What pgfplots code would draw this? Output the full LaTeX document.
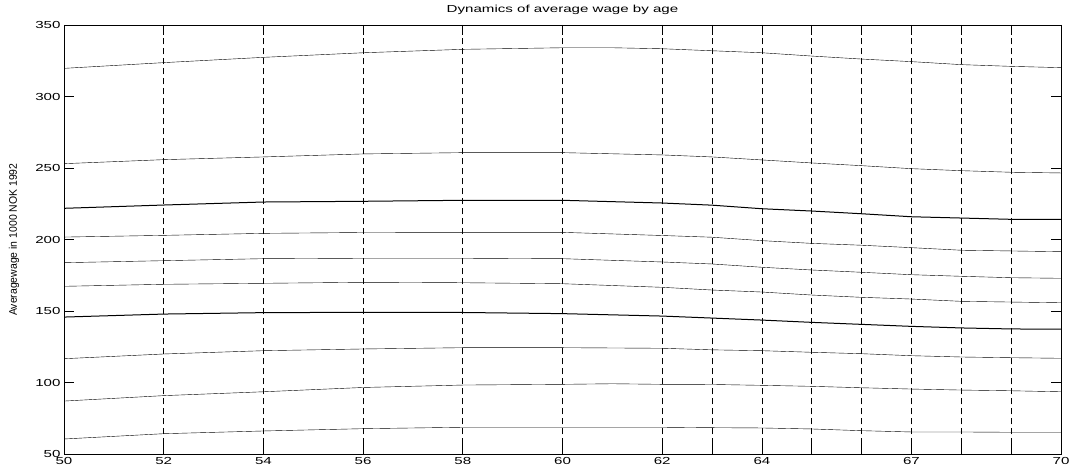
\documentclass[border=0pt]{standalone}
\usepackage{pgfplots}
\pgfplotsset{compat=1.18}
\usepackage{fontspec}
\setmainfont{Liberation Sans}
\newfontfamily\widefont[FakeStretch=1.48]{Liberation Sans}
\newfontfamily\narrowfont[FakeStretch=0.95]{Liberation Sans}
\begin{document}
\begin{tikzpicture}
\useasboundingbox (0,0) rectangle (1076pt,475pt);
\begin{axis}[
  at={(64pt,20.7pt)}, anchor=south west,
  scale only axis, width=997pt, height=429.3pt,
  xmin=50, xmax=70, ymin=50, ymax=350,
  xtick={50,52,54,56,58,60,62,63,64,65,66,67,68,69,70},
  xticklabels={50,52,54,56,58,60,62,,64,,,67,,,70},
  ytick={50,100,150,200,250,300,350},
  tick align=inside, tick pos=both,
  xticklabel pos=left, yticklabel pos=left,
  major tick length=10pt,
  /pgf/number format/assume math mode=true,
  ticklabel style={font=\fontsize{10.2}{12}\widefont},
  xticklabel style={yshift=0pt},
  xmajorgrids,
  major grid style={black, line width=0.7pt, dash pattern=on 6pt off 4pt},
  axis line style={black, line width=0.9pt},
  every tick/.style={black, line width=0.7pt},
  title={Dynamics of average wage by age},
  title style={font=\fontsize{10.2}{12}\widefont, at={(0.5,1)}, anchor=south, yshift=1pt},
  ylabel={Averagewage in 1000 NOK 1992},
  ylabel style={font=\fontsize{11}{12}\narrowfont, at={(axis description cs:-0.0502,0.5)}, anchor=center},
  cycle list={{black, solid, line width=1pt, mark=none}},
]
\addplot coordinates {(50,319.7) (52,323.7) (54,327.4) (56,330.6) (58,333.0) (60,334.1) (61,334.1) (62,333.4) (63,332.0) (64,330.6) (65,328.3) (66,326.2) (67,324.4) (68,322.3) (69,321.1) (70,320.2)};
\addplot coordinates {(50,253.1) (52,255.9) (54,257.8) (56,259.9) (58,260.8) (60,260.8) (62,259.2) (63,257.8) (64,255.7) (65,253.6) (66,251.7) (67,249.6) (68,248.2) (69,247.1) (70,246.6)};
\addplot coordinates {(50,221.9) (52,224.2) (54,226.3) (56,226.8) (58,227.5) (60,227.5) (62,225.6) (63,224.1) (64,221.6) (65,220.0) (66,218.1) (67,216.0) (68,215.1) (69,214.2) (70,214.2)};
\addplot coordinates {(50,201.8) (52,203.0) (54,204.4) (56,205.0) (58,205.1) (60,205.1) (62,202.9) (63,201.7) (64,199.3) (65,197.4) (66,196.1) (67,194.4) (68,192.6) (69,192.1) (70,191.6)};
\addplot coordinates {(50,183.9) (52,185.3) (54,186.7) (56,187.0) (58,187.0) (60,186.7) (62,184.4) (63,183.0) (64,180.7) (65,178.8) (66,177.2) (67,175.5) (68,174.4) (69,173.4) (70,173.0)};
\addplot coordinates {(50,167.4) (52,168.8) (54,169.5) (56,170.2) (58,169.9) (60,169.2) (62,166.7) (63,164.8) (64,163.4) (65,161.3) (66,159.7) (67,158.5) (68,156.9) (69,156.4) (70,155.9)};
\addplot coordinates {(50,145.9) (52,148.0) (54,149.0) (56,149.2) (58,149.1) (60,148.3) (62,146.6) (63,145.2) (64,143.8) (65,142.2) (66,140.8) (67,139.4) (68,138.3) (69,137.6) (70,137.4)};
\addplot coordinates {(50,116.8) (52,120.1) (54,122.4) (56,123.6) (58,124.5) (60,124.5) (62,124.1) (63,123.0) (64,122.4) (65,121.3) (66,120.3) (67,118.9) (68,118.0) (69,117.5) (70,117.1)};
\addplot coordinates {(50,87.2) (52,91.0) (54,93.7) (56,96.7) (58,98.4) (60,98.9) (61,99.3) (62,98.9) (63,98.8) (64,98.2) (65,97.5) (66,96.5) (67,95.6) (68,94.9) (69,94.4) (70,93.7)};
\addplot coordinates {(50,60.7) (52,64.4) (54,66.3) (56,67.9) (58,68.9) (60,68.9) (62,68.9) (63,68.6) (64,68.4) (65,67.7) (66,66.5) (67,65.6) (68,65.6) (69,65.4) (70,65.4)};
\end{axis}
\end{tikzpicture}
\end{document}
